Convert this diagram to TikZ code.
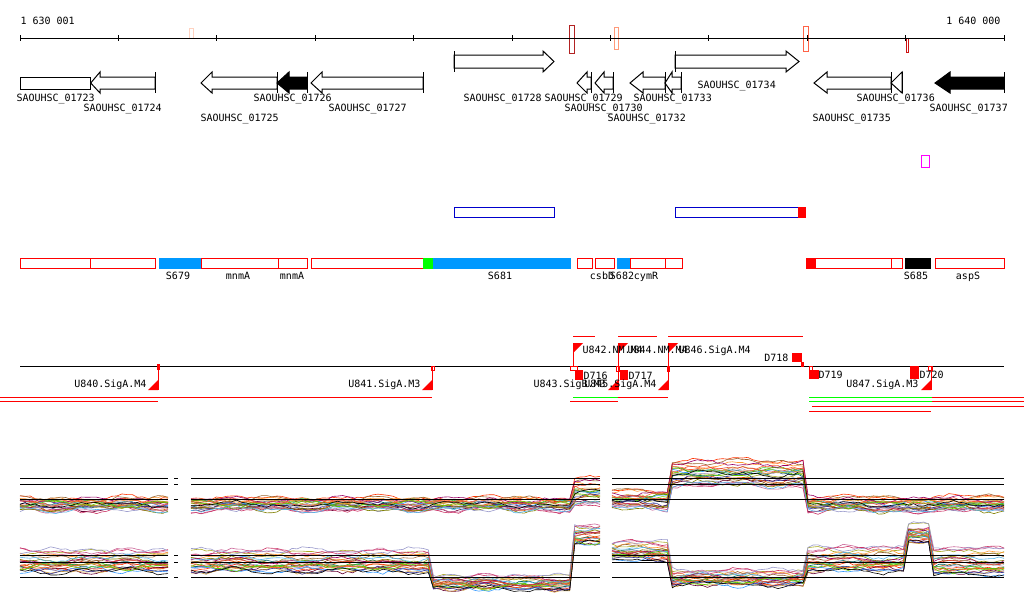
\documentclass[tikz,border=0pt]{standalone}
\usepackage{fontspec}
\setmainfont{DejaVu Sans Mono}
\usetikzlibrary{arrows}

\definecolor{segblue}{HTML}{0099FF}
\definecolor{pink1}{HTML}{FF00FF}
\definecolor{mark1}{HTML}{FFD2C0}
\definecolor{mark2}{HTML}{B22222}
\definecolor{mark3}{HTML}{FF9A7A}
\definecolor{mark4}{HTML}{FF6347}
\definecolor{mark5}{HTML}{CC1111}
\definecolor{c1}{HTML}{000000}
\definecolor{c2}{HTML}{E64B35}
\definecolor{c3}{HTML}{66CC00}
\definecolor{c4}{HTML}{56B4E9}
\definecolor{c5}{HTML}{990066}
\definecolor{c6}{HTML}{808000}
\definecolor{c7}{HTML}{FF6633}
\definecolor{c8}{HTML}{996633}
\definecolor{c9}{HTML}{9999CC}
\definecolor{c10}{HTML}{CC3366}
\definecolor{c11}{HTML}{333399}
\definecolor{c12}{HTML}{FF9933}
\definecolor{c13}{HTML}{669900}
\definecolor{c14}{HTML}{CC6699}
\definecolor{c15}{HTML}{3399FF}
\definecolor{c16}{HTML}{CC9933}
\definecolor{c17}{HTML}{660033}
\definecolor{c18}{HTML}{33CC33}
\definecolor{c19}{HTML}{FF3300}
\definecolor{c20}{HTML}{8B4513}
\definecolor{c21}{HTML}{B0A0D0}
\definecolor{c22}{HTML}{006666}
\definecolor{c23}{HTML}{DD5500}
\definecolor{c24}{HTML}{AAAA22}

% reverse gene: tip, head base, tail, fill
\newcommand{\revgene}[4]{%
  \draw[fill=#4] (#1,83) -- (#2,72) -- (#2,77) -- (#3,77) -- (#3,89) -- (#2,89) -- (#2,93) -- cycle;
  \draw (#3,72) -- (#3,93);}
% forward gene: tail, head base, tip
\newcommand{\fwdgene}[3]{%
  \draw[fill=white] (#3,61.5) -- (#2,51) -- (#2,55) -- (#1,55) -- (#1,68) -- (#2,68) -- (#2,72) -- cycle;
  \draw (#1,51) -- (#1,72);}

\tikzset{
  every node/.style={inner sep=0pt,font=\fontsize{10}{10}\selectfont},
  seg/.style={draw=red,fill=white},
  prom/.style={red,line width=1pt},
  declare function={
    lvA(\x)=(\x<570)?504:((\x<606)?492:((\x<668)?499:((\x<806)?473:504)));
    spA(\x)=(\x<570)?6:((\x<606)?14:((\x<668)?9:((\x<806)?13:7)));
    lvB(\x)=(\x<430)?560:((\x<572)?582:((\x<606)?534:((\x<668)?550:((\x<806)?577:((\x<906)?558:((\x<930)?532:560))))));
    spB(\x)=(\x<430)?12:((\x<572)?7:((\x<606)?11:((\x<668)?10:((\x<806)?8:((\x<906)?14:((\x<930)?9:16))))));
  }
}

\begin{document}
\begin{tikzpicture}[x=1pt,y=-1pt,line width=1pt]
\fill[white] (0,0) rectangle (1024,611);
\useasboundingbox (0,0) rectangle (1024,611);

% ruler
\draw[mark1] (189,28) rectangle (193,38);
\draw[mark2] (569,25) rectangle (574,53);
\draw[mark3] (614,27) rectangle (618,49);
\draw[mark4] (803,26) rectangle (808,51);
\draw[mark5] (906,38) rectangle (908,52);
\draw (20,38) -- (1004,38);
\foreach \t in {0,...,10}
  \draw ({20+98.4*\t},35) -- ({20+98.4*\t},41);
\node[anchor=base west] (R1) at (20,24) {1 630 001};
\node[anchor=base east] (R2) at (1001,24) {1 640 000};

% genes
\draw[fill=white] (20.7,77) rectangle (90.7,89);
\revgene{90.7}{100}{155}{white}
\revgene{201}{212}{277}{white}
\revgene{277}{289}{307}{black}
\revgene{311}{322}{423}{white}
\fwdgene{454}{543}{554}
\revgene{577}{587}{591}{white}
\revgene{595}{604}{613}{white}
\revgene{630}{643}{665}{white}
\revgene{665}{672}{681}{white}
\fwdgene{675}{786}{799}
\revgene{814}{827}{891}{white}
\revgene{891}{902}{902}{white}
\revgene{935}{950}{1004}{black}

\node[anchor=base west] (G23) at (16,101) {SAOUHSC\_01723};
\node[anchor=base west] (G24) at (83,111) {SAOUHSC\_01724};
\node[anchor=base west] (G25) at (200,121) {SAOUHSC\_01725};
\node[anchor=base west] (G26) at (253,101) {SAOUHSC\_01726};
\node[anchor=base west] (G27) at (328,111) {SAOUHSC\_01727};
\node[anchor=base west] (G28) at (463,101) {SAOUHSC\_01728};
\node[anchor=base west] (G29) at (544,101) {SAOUHSC\_01729};
\node[anchor=base west] (G30) at (564,111) {SAOUHSC\_01730};
\node[anchor=base west] (G32) at (607,121) {SAOUHSC\_01732};
\node[anchor=base west] (G33) at (633,101) {SAOUHSC\_01733};
\node[anchor=base west] (G34) at (697,88) {SAOUHSC\_01734};
\node[anchor=base west] (G35) at (812,121) {SAOUHSC\_01735};
\node[anchor=base west] (G36) at (856,101) {SAOUHSC\_01736};
\node[anchor=base west] (G37) at (929,111) {SAOUHSC\_01737};

% small tracks
\draw[pink1] (921,155) rectangle (929,167);
\draw[blue!80!black] (454,207) rectangle (554,217);
\draw[blue!80!black] (675,207) rectangle (798,217);
\fill[red] (798,206.5) rectangle (806,217.5);

% segments
\draw[seg] (20.7,258) rectangle (90.7,268);
\draw[seg] (90.7,258) rectangle (155.3,268);
\fill[segblue] (159,257.5) rectangle (201,268.5);
\draw[seg] (201,258) rectangle (278,268);
\draw[seg] (278,258) rectangle (307,268);
\draw[seg] (311,258) rectangle (423,268);
\fill[green] (423,257.5) rectangle (433,268.5);
\fill[segblue] (433,257.5) rectangle (571,268.5);
\draw[seg] (577,258) rectangle (592,268);
\draw[seg] (595,258) rectangle (614,268);
\fill[segblue] (617,257.5) rectangle (630,268.5);
\draw[seg] (630,258) rectangle (665,268);
\draw[seg] (665,258) rectangle (682,268);
\fill[red] (806,257.5) rectangle (815,268.5);
\draw[seg] (815,258) rectangle (891,268);
\draw[seg] (891,258) rectangle (902,268);
\fill[black] (905,257.5) rectangle (931,268.5);
\draw[seg] (935,258) rectangle (1004,268);
\node[anchor=base] (S1) at (178,279) {S679};
\node[anchor=base] (S2) at (238,279) {mnmA};
\node[anchor=base] (S3) at (292,279) {mnmA};
\node[anchor=base] (S4) at (500,279) {S681};
\node[anchor=base] (S5) at (602,279) {csbD};
\node[anchor=base] (S6) at (622,279) {S682};
\node[anchor=base] (S7) at (646,279) {cymR};
\node[anchor=base] (S8) at (916,279) {S685};
\node[anchor=base] (S9) at (968,279) {aspS};

% promoters
\draw (20,366) -- (1004,366);
\draw[prom] (573,336) -- (595,336);
\draw[prom] (618,336) -- (657,336);
\draw[prom] (668,336) -- (803,336);
\foreach \p in {573,618,668} {
  \draw[prom] (\p,343) -- (\p,366);
  \fill[red] (\p,343) -- (\p+10,343) -- (\p,353) -- cycle;
}
\foreach \p in {158,432,618,668,931} {
  \draw[prom] (\p,366) -- (\p,390);
  \fill[red] (\p,390) -- (\p-10,390) -- (\p,380) -- cycle;
}
\fill[red] (156.5,364) rectangle (160,370);
\draw[red] (431,366) rectangle (434,370);
\draw[red] (570,366) rectangle (577,370);
\draw[red] (616,366) rectangle (619,371);
\fill[red] (667,366) rectangle (670,372);
\fill[red] (801,362) rectangle (803.5,367);
\draw[red] (809,366) rectangle (812,370);
\draw[red] (928,366) rectangle (932,370);
\fill[red] (575,370) rectangle (583,380);
\fill[red] (620,370) rectangle (628,380);
\fill[red] (792,353) rectangle (802,362);
\fill[red] (809,370) rectangle (819,379);
\fill[red] (910,366) rectangle (919,379);

\node[anchor=base east] (P1) at (147,387) {U840.SigA.M4};
\node[anchor=base east] (P2) at (421,387) {U841.SigA.M3};
\node[anchor=base west] (P3) at (533,387) {U843.SigB.M3};
\node[anchor=base east] (P5) at (657,387) {U845.SigA.M4};
\node[anchor=base east] (P7) at (919,387) {U847.SigA.M3};
\node[anchor=base west] (P4) at (582,353) {U842.NM.M4};
\node[anchor=base west] (P6) at (627,353) {U844.NM.M4};
\node[anchor=base west] (P8) at (678,353) {U846.SigA.M4};
\node[anchor=base west] (D1) at (583,379) {D716};
\node[anchor=base west] (D2) at (628,379) {D717};
\node[anchor=base east] (D3) at (789,361) {D718};
\node[anchor=base west] (D4) at (818,378) {D719};
\node[anchor=base west] (D5) at (919,378) {D720};

\draw[prom] (0,397) -- (432,397);
\draw[prom] (0,401) -- (158,401);
\draw[green] (573,397) -- (618,397);
\draw[prom] (618,397) -- (668,397);
\draw[prom] (570,401) -- (618,401);
\draw[green] (809,397) -- (932,397);
\draw[green] (809,401) -- (932,401);
\draw[prom] (932,397) -- (1024,397);
\draw[prom] (932,401) -- (1024,401);
\draw[prom] (812,406) -- (1024,406);
\draw[prom] (809,411) -- (931,411);

% expression profiles
\pgfmathsetseed{42}
\foreach \i in {24,23,...,1} {
  \pgfmathsetmacro\offa{rand}
  \pgfmathsetmacro\offb{rand}
  \pgfmathsetmacro\ph{rnd*360}
  \foreach \xa/\xb in {20/168,191/600,612/1004} {
    \pgfmathtruncatemacro\ns{(\xb-\xa)/5+1}
    \draw[c\i,line width=0.6pt] plot[domain=\xa:\xb,samples=\ns]
      (\x,{lvA(\x)+spA(\x)*\offa+1.2*rand+2*sin(3*\x+\ph)+1.5*sin(7*\x-\ph)});
    \draw[c\i,line width=0.6pt] plot[domain=\xa:\xb,samples=\ns]
      (\x,{lvB(\x)+spB(\x)*\offb+1.2*rand+2*sin(3*\x+\ph)+1.5*sin(7*\x-\ph)});
  }
}
\foreach \yy in {478,484,499,555,562,577} {
  \draw (20,\yy) -- (168,\yy);
  \draw (174,\yy) -- (178,\yy);
  \draw (191,\yy) -- (600,\yy);
  \draw (612,\yy) -- (1004,\yy);
}
\end{tikzpicture}
\end{document}
